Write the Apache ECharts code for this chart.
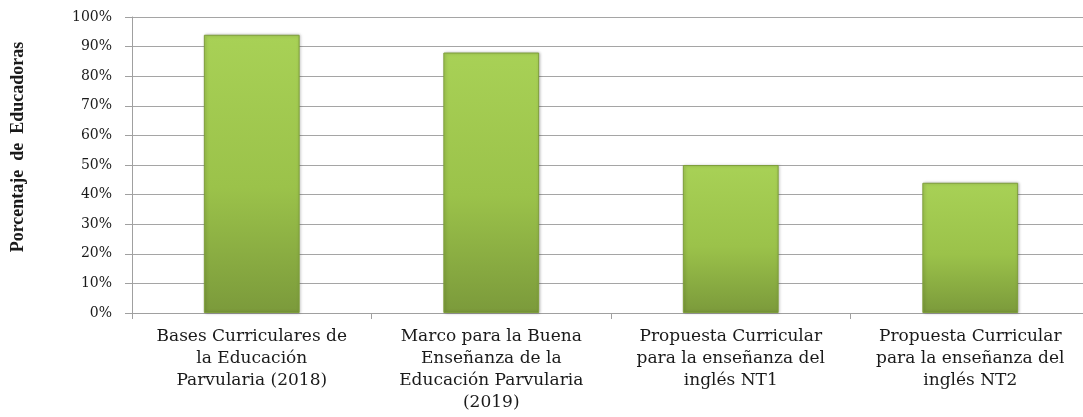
<!DOCTYPE html>
<html>
<head>
<meta charset="utf-8">
<script src="https://cdn.jsdelivr.net/npm/echarts@6/dist/echarts.min.js"></script>
<style>
	html, body { margin: 0; padding: 0; background: #fff; }
	#chart { width: 1083px; height: 417px; }
</style>
</head>
<body>
<div id="chart"></div>
<script>
// datos
const categorias = [
	'Bases Curriculares de\nla Educación\nParvularia (2018)',
	'Marco para la Buena\nEnseñanza de la\nEducación Parvularia\n(2019)',
	'Propuesta Curricular\npara la enseñanza del\ninglés NT1',
	'Propuesta Curricular\npara la enseñanza del\ninglés NT2'
];
const porcentajes = [94, 88, 50, 44];
const yMin = 0, yMax = 100, yPaso = 10;

let chart = echarts.init(document.getElementById('chart'));

chart.setOption({
	animation: false,
	grid: {
		left: 132,
		top: 17,
		width: 958,
		height: 296,
		outerBoundsMode: 'none'
	},
	xAxis: {
		type: 'category',
		data: categorias,
		axisLine: { lineStyle: { color: '#a0a0a0', width: 1 } },
		axisTick: { show: true, length: 6, lineStyle: { color: '#a0a0a0' } },
		axisLabel: {
			interval: 0,
			margin: 13,
			fontFamily: 'DejaVu Serif',
			fontSize: 17,
			lineHeight: 22,
			color: '#1a1a1a'
		}
	},
	yAxis: {
		type: 'value',
		min: yMin,
		max: yMax,
		interval: yPaso,
		name: 'Porcentaje  de  Educadoras',
		nameLocation: 'middle',
		nameGap: 105,
		nameRotate: 90,
		nameTextStyle: {
			fontFamily: 'Liberation Serif',
			fontWeight: 'bold',
			fontSize: 18,
			color: '#1a1a1a',
			padding: [0, 0, 0, 36]
		},
		axisLine: { show: true, lineStyle: { color: '#a0a0a0', width: 1 } },
		axisTick: { show: true, length: 7, lineStyle: { color: '#a0a0a0' } },
		splitLine: { lineStyle: { color: '#a5a5a5', width: 1 } },
		axisLabel: {
			formatter: '{value}%',
			margin: 20,
			fontFamily: 'DejaVu Serif',
			fontSize: 14,
			color: '#1a1a1a'
		}
	},
	series: [
		{
			type: 'bar',
			data: porcentajes,
			barWidth: '40%',
			itemStyle: {
				color: new echarts.graphic.LinearGradient(0, 0, 0, 1, [
					{ offset: 0, color: '#a8d156' },
					{ offset: 0.55, color: '#9bc24a' },
					{ offset: 1, color: '#7b9a3b' }
				]),
				borderColor: '#7f9f3c',
				borderWidth: 1,
				shadowColor: 'rgba(0, 0, 0, 0.25)',
				shadowBlur: 3,
				shadowOffsetX: 1,
				shadowOffsetY: 0
			}
		}
	]
});
</script>
</body>
</html>
